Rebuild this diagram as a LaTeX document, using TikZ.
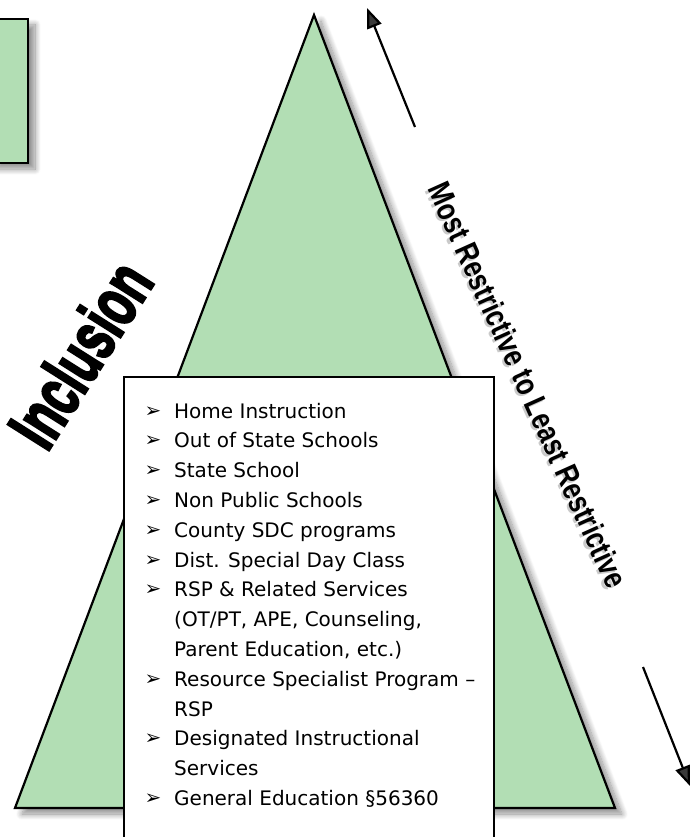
\documentclass[tikz,border=0pt]{standalone}
\usepackage{fontspec}
\setmainfont{DejaVu Sans}
\newfontfamily\heavyfont{Liberation Sans Bold}[FakeBold=4]
\newfontfamily\titlefont{Liberation Sans Bold}
\usetikzlibrary{shadows.blur,arrows.meta}
\definecolor{leafgreen}{RGB}{178,222,180}
\tikzset{
  greenshape/.style={fill=leafgreen,draw=black,line width=2.2pt,line join=miter,
    blur shadow={shadow xshift=7pt,shadow yshift=-6pt,shadow blur steps=12,shadow blur radius=6pt,shadow opacity=45}},
  listbox/.style={fill=white,draw=black,line width=1.4pt},
  item/.style={anchor=base west,inner sep=0pt,font=\fontsize{20}{22}\selectfont},
  bullet/.style={anchor=base,inner sep=0pt,font=\fontsize{20}{22}\selectfont},
  arr/.style={line width=2.2pt,-{Triangle[length=20pt,width=15pt]}},
  sidetitle/.style={inner sep=0pt,font=\titlefont\fontsize{32}{34}\selectfont},
}
\begin{document}
\begin{tikzpicture}[x=1pt,y=-1pt]
\useasboundingbox (0,0) rectangle (695,837);

% side panel and the green triangle
\draw[greenshape] (-10,19) rectangle (28,163);
\draw[greenshape] (314,15) -- (615,808) -- (15,808) -- cycle;

% list panel
\draw[listbox] (124,377) -- (124,850) -- (494,850) -- (494,377) -- cycle;

% list entries (one per printed line)
\def\lx{174}
\def\bx{153}
\foreach \i/\txt/\b in {
  0/Home Instruction/1,
  1/Out of State Schools/1,
  2/State School/1,
  3/Non Public Schools/1,
  4/County SDC programs/1,
  5/Dist. Special Day Class/1,
  6/RSP \& Related Services/1,
  7/{(OT/PT, APE, Counseling,}/0,
  8/{Parent Education, etc.)}/0,
  9/Resource Specialist Program –/1,
  10/RSP/0,
  11/Designated Instructional/1,
  12/Services/0,
  13/General Education §56360/1} {
  \node[item] (line\i) at (\lx,418+29.8*\i) {\txt};
  \ifnum\b=1
    \node[bullet] (mark\i) at (\bx,417+29.8*\i) {➢};
  \fi
}

% rotated captions
\node[inner sep=0pt,rotate=57.7,font=\heavyfont\fontsize{70}{72}\selectfont,xscale=0.66] (incl) at (80,354) {Inclusion};
\node[sidetitle,text=black!35,opacity=0.6,rotate=-65.8,xscale=0.8] (scaleshadow) at ([shift={(-2.2,1)}]528,386) {Most Restrictive to Least Restrictive};
\node[sidetitle,rotate=-65.8,xscale=0.8] (scale) at (528,385) {Most Restrictive to Least Restrictive};

% direction arrows
\coordinate (upStart) at (415,127);
\coordinate (upEnd) at (367,8);
\coordinate (downStart) at (643,667);
\coordinate (downEnd) at (690,786);
\draw[arr] (upStart) -- (upEnd);
\draw[arr] (downStart) -- (downEnd);
\end{tikzpicture}
\end{document}
